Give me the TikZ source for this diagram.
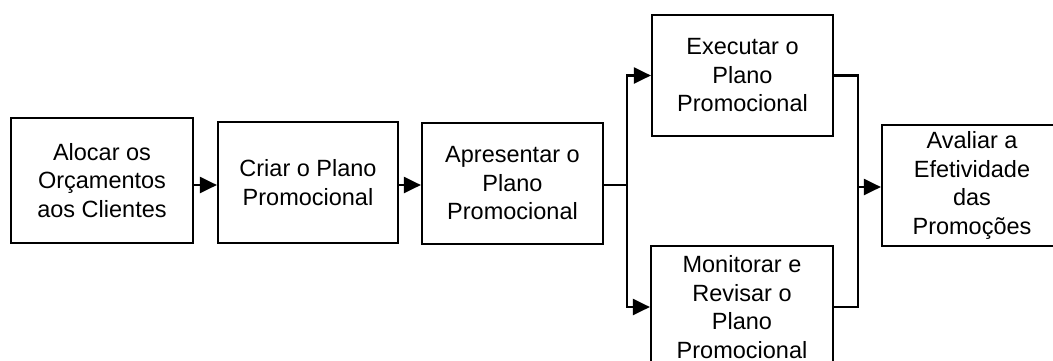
\documentclass[tikz,border=0pt]{standalone}
\usepackage{fontspec}
\setmainfont{Liberation Sans}
\usetikzlibrary{arrows.meta}
\begin{document}
\begin{tikzpicture}[x=1pt,y=-1pt,
  box/.style={draw=black, line width=2.2pt, fill=white, align=center,
    inner sep=0pt, font=\fontsize{23.5}{28.5}\selectfont},
  link/.style={line width=2.2pt},
  arr/.style={link, -{Triangle[length=17pt,width=16pt]}}]
  \useasboundingbox (0,0) rectangle (1053,360);
  \fill[white] (0,0) rectangle (1053,360);
  \begin{scope}
  \clip (0,0) rectangle (1053,360);
  % process boxes
  \node[box, minimum width=182pt, minimum height=125pt] (b1) at (102,180.5)
    {Alocar os\\Orçamentos\\aos Clientes};
  \node[box, minimum width=180pt, minimum height=121pt] (b2) at (308,182.5)
    {Criar o Plano\\Promocional};
  \node[box, minimum width=181pt, minimum height=121pt] (b3) at (512.5,183.5)
    {Apresentar o\\Plano\\Promocional};
  \node[box, minimum width=181pt, minimum height=121pt] (b4) at (742.5,75.5)
    {Executar o\\Plano\\Promocional};
  \node[box, minimum width=182pt, minimum height=122pt] (b5) at (742,307)
    {Monitorar e\\Revisar o\\Plano\\Promocional};
  \node[box, minimum width=180pt, minimum height=121pt] (b6) at (972,185.5)
    {Avaliar a\\Efetividade\\das\\Promoções};
  % routing points
  \coordinate (row) at (0,185);
  \coordinate (split) at (627,185);
  \coordinate (merge) at (858,187);
  % connectors
  \draw[arr] (b1.east |- row) -- (b2.west |- row);
  \draw[arr] (b2.east |- row) -- (b3.west |- row);
  \draw[link] (b3.east |- row) -- (split);
  \draw[arr] (split) |- (b4.west);
  \draw[arr] (split) |- (b5.west);
  \draw[link] (b4.east) -| (merge) |- (b5.east);
  \draw[arr] (merge) -- (b6.west |- merge);
  \end{scope}
\end{tikzpicture}
\end{document}
